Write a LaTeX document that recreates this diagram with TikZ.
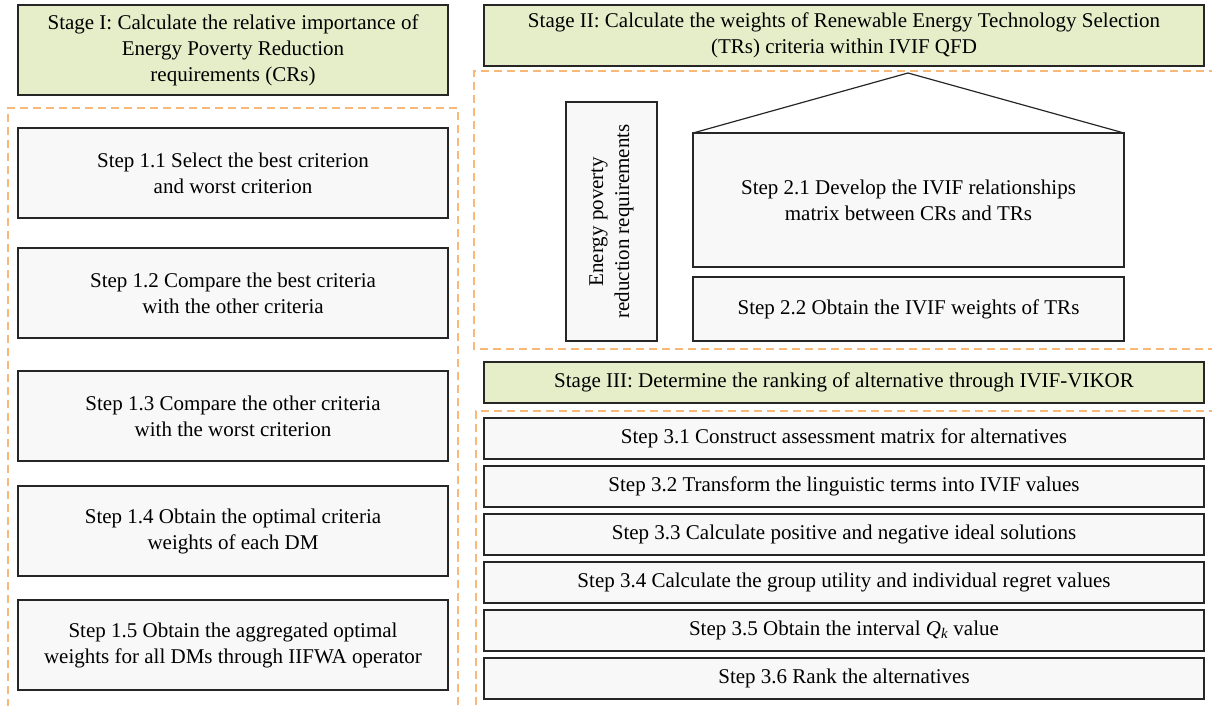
\documentclass[tikz,border=0pt]{standalone}
\usepackage{fontspec}
\setmainfont{Liberation Serif}
\usetikzlibrary{positioning}
\definecolor{stagegreen}{HTML}{E6EEC9}
\definecolor{stepgray}{HTML}{F8F8F8}
\definecolor{dashorange}{HTML}{F8B878}
\tikzstyle{stage}=[draw=black!85,fill=stagegreen,line width=1.2pt,align=center,
                   inner sep=0pt,outer sep=0pt,anchor=north west]
\tikzstyle{stepbox}=[draw=black!85,fill=stepgray,line width=1.2pt,align=center,
                   inner sep=0pt,outer sep=0pt,anchor=north west]
\tikzstyle{frame}=[draw=dashorange,line width=1.4pt,dash pattern=on 8pt off 5pt]

\begin{document}
\begin{tikzpicture}[x=1pt,y=-1pt,node distance=7pt,
                    font=\fontsize{21}{26}\selectfont]
	\clip (0,0) rectangle (1212,705);

	% dashed frames
	\draw[frame] (8,720) -- (8,108) -- (458,108) -- (458,720);
	\draw[frame] (1230,71) -- (474,71) -- (474,349) -- (1230,349);
	\draw[frame] (1230,411) -- (476,411) -- (476,720);

	% stage I
	\node[stage,minimum width=430pt,minimum height=90pt] (st1) at (18,5)
		{Stage I: Calculate the relative importance of\\Energy Poverty Reduction\\requirements (CRs)};
	\node[stepbox,minimum width=430pt,minimum height=90pt] (s11) at (18,128)
		{Step 1.1 Select the best criterion\\and worst criterion};
	\node[stepbox,minimum width=430pt,minimum height=90pt] (s12) at (18,248)
		{Step 1.2 Compare the best criteria\\with the other criteria};
	\node[stepbox,minimum width=430pt,minimum height=90pt] (s13) at (18,371)
		{Step 1.3 Compare the other criteria\\with the worst criterion};
	\node[stepbox,minimum width=430pt,minimum height=90pt] (s14) at (18,486)
		{Step 1.4 Obtain the optimal criteria\\weights of each DM};
	\node[stepbox,minimum width=430pt,minimum height=90pt] (s15) at (18,600)
		{Step 1.5 Obtain the aggregated optimal\\weights for all DMs through IIFWA operator};

	% stage II
	\node[stage,minimum width=720pt,minimum height=61pt] (st2) at (484,5)
		{Stage II: Calculate the weights of Renewable Energy Technology Selection\\(TRs) criteria within IVIF QFD};
	\node[stepbox,anchor=center,rotate=90,minimum width=239pt,minimum height=91pt] (epr) at (611.5,221.5)
		{Energy poverty\\reduction requirements};
	\node[stepbox,minimum width=431pt,minimum height=134pt] (s21) at (693,133)
		{Step 2.1 Develop the IVIF relationships\\matrix between CRs and TRs};
	\node[stepbox,minimum width=431pt,minimum height=64pt] (s22) at (693,277)
		{Step 2.2 Obtain the IVIF weights of TRs};
	\coordinate (roof) at (908,73);
	\draw[line width=1.2pt,black!85] (s21.north west) -- (roof) -- (s21.north east);

	% stage III
	\node[stage,minimum width=720pt,minimum height=41pt] (st3) at (484,362)
		{Stage III: Determine the ranking of alternative through IVIF-VIKOR};
	\node[stepbox,minimum width=720pt,minimum height=41pt] (s31) at (484,418)
		{Step 3.1 Construct assessment matrix for alternatives};
	\node[stepbox,minimum width=720pt,minimum height=41pt,below=of s31] (s32)
		{Step 3.2 Transform the linguistic terms into IVIF values};
	\node[stepbox,minimum width=720pt,minimum height=41pt,below=of s32] (s33)
		{Step 3.3 Calculate positive and negative ideal solutions};
	\node[stepbox,minimum width=720pt,minimum height=41pt,below=of s33] (s34)
		{Step 3.4 Calculate the group utility and individual regret values};
	\node[stepbox,minimum width=720pt,minimum height=41pt,below=of s34] (s35)
		{Step 3.5 Obtain the interval \textit{Q}\textsubscript{\textit{k}} value};
	\node[stepbox,minimum width=720pt,minimum height=41pt,below=of s35] (s36)
		{Step 3.6 Rank the alternatives};
\end{tikzpicture}
\end{document}
